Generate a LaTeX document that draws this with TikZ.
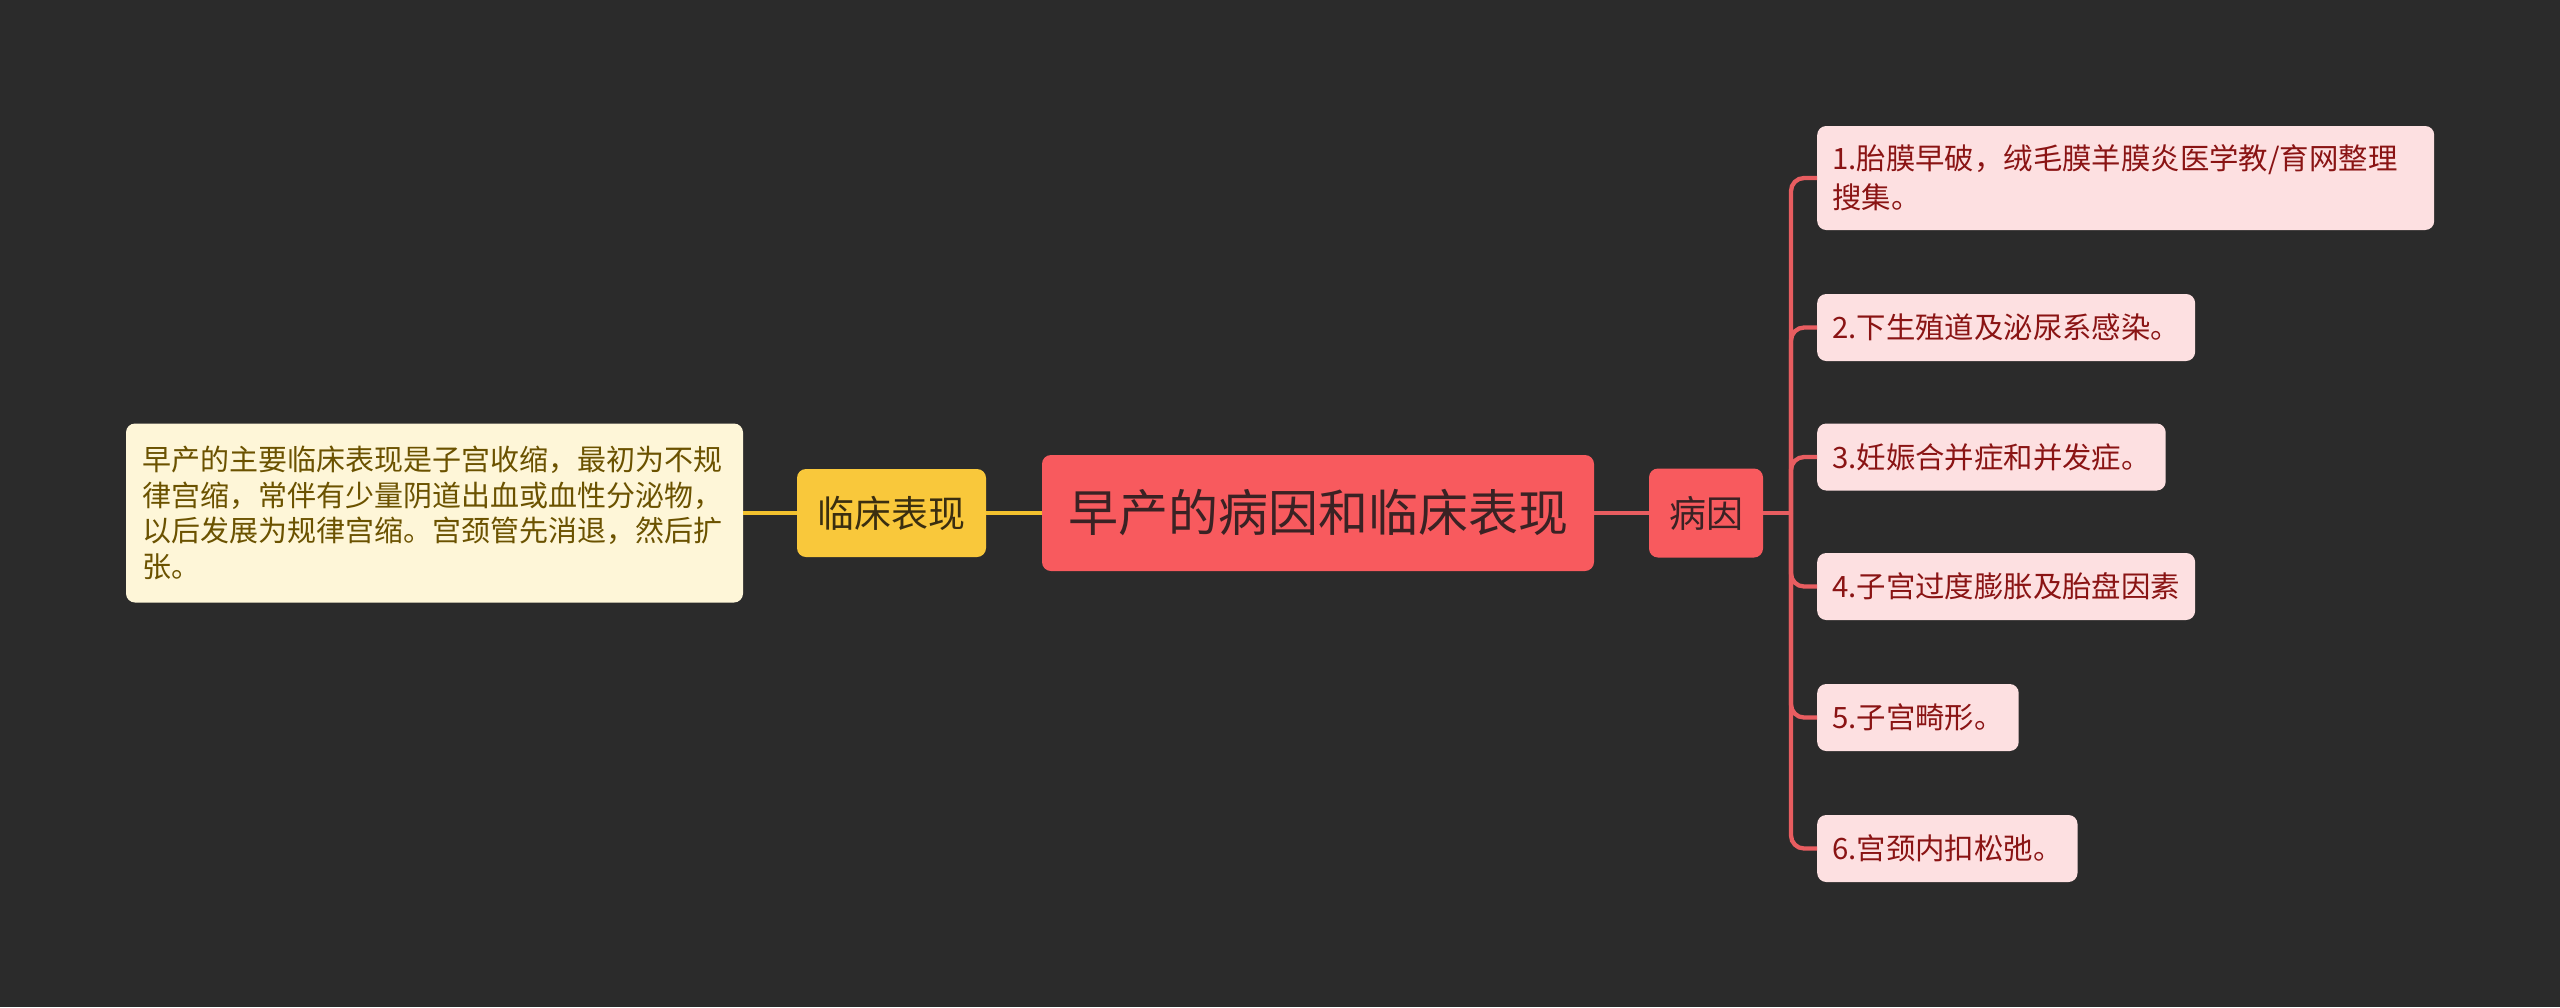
\documentclass[tikz,border=0pt]{standalone}
\usepackage{fontspec}
\setmainfont{Noto Sans CJK SC}
\definecolor{bg}{HTML}{2B2B2B}
\definecolor{coral}{HTML}{F85A5E}
\definecolor{coraltext}{HTML}{3A2224}
\definecolor{pinkfill}{HTML}{FDE0E1}
\definecolor{pinktext}{HTML}{8A1414}
\definecolor{yel}{HTML}{F9C83B}
\definecolor{yeltext}{HTML}{3A2E10}
\definecolor{cream}{HTML}{FEF6D8}
\definecolor{creamtext}{HTML}{6B5200}
\definecolor{redline}{HTML}{E85D60}
\definecolor{yelline}{HTML}{F2C12E}
\tikzset{
  box/.style={rounded corners=9pt, inner ysep=0pt},
  rootbox/.style={box, fill=coral, text=coraltext, minimum width=552pt, minimum height=116pt, font=\fontsize{50}{60}\selectfont},
  mainbox/.style={box, fill=coral, text=coraltext, minimum width=114pt, minimum height=89pt, font=\fontsize{37}{44}\selectfont},
  yelbox/.style={box, fill=yel, text=yeltext, minimum width=189pt, minimum height=88pt, font=\fontsize{37}{44}\selectfont},
  creambox/.style={box, fill=cream, text=creamtext, text width=585pt, inner xsep=16pt, minimum height=179pt, align=left, font=\fontsize{29}{35.5}\selectfont},
  leafbox/.style={box, fill=pinkfill, text=pinktext, anchor=west, inner xsep=15pt, minimum height=67pt, font=\fontsize{29.4}{39}\selectfont},
  redconn/.style={draw=redline, line width=4.3pt, rounded corners=13pt},
  yelconn/.style={draw=yelline, line width=4.3pt},
}
\begin{document}
\begin{tikzpicture}[x=1pt,y=-1pt]
\fill[bg] (0,0) rectangle (2560,1007);
\useasboundingbox (0,0) rectangle (2560,1007);

\node[rootbox] (root) at (1318,513) {早产的病因和临床表现};
\node[mainbox] (by) at (1706,513) {病因};
\node[yelbox] (lc) at (891.5,513) {临床表现};
\node[creambox] (lctext) at (434.5,513) {早产的主要临床表现是子宫收缩，最初为不规\\律宫缩，常伴有少量阴道出血或血性分泌物，\\以后发展为规律宫缩。宫颈管先消退，然后扩\\张。};

\node[leafbox, text width=587pt, minimum height=104pt, align=left] (c1) at (1817,178) {1.胎膜早破，绒毛膜羊膜炎医学教/育网整理\\搜集。};
\node[leafbox] (c2) at (1817,327.5) {2.下生殖道及泌尿系感染。};
\node[leafbox] (c3) at (1817,457) {3.妊娠合并症和并发症。};
\node[leafbox] (c4) at (1817,586.5) {4.子宫过度膨胀及胎盘因素};
\node[leafbox] (c5) at (1817,717.5) {5.子宫畸形。};
\node[leafbox] (c6) at (1817,848.5) {6.宫颈内扣松弛。};

\coordinate (hub) at (1791,513);

\draw[yelconn] (root.west) -- (lc.east);
\draw[yelconn] (lc.west) -- (lctext.east);
\draw[redconn] (root.east) -- (by.west);
\draw[redconn] (by.east) -- (hub);
\foreach \c in {c1,c2,c3,c4,c5,c6}{
  \draw[redconn] (hub) |- (\c.west);
}
\end{tikzpicture}
\end{document}
